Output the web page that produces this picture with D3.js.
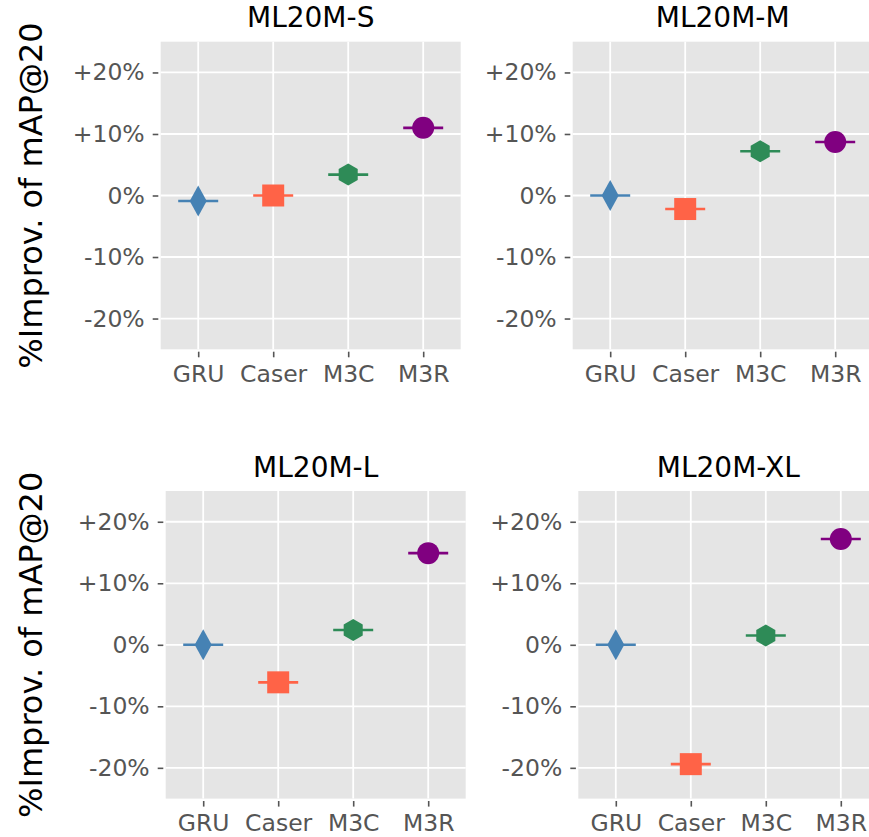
<!DOCTYPE html>
<html>
<head>
<meta charset="utf-8">
<script src="https://cdn.jsdelivr.net/npm/d3@7"></script>
<style>
  html, body { margin: 0; padding: 0; background: #ffffff; }
  svg { display: block; font-family: "DejaVu Sans", sans-serif; }
</style>
</head>
<body>
<svg id="chart" width="869" height="837"></svg>
<script>
// ---- data ----
const methods = ["GRU", "Caser", "M3C", "M3R"];
const datasets = ["ML20M-S", "ML20M-M", "ML20M-L", "ML20M-XL"];
const valuesS  = [-0.9,   0.0, 3.4, 11.0];
const valuesM  = [ 0.0,  -2.2, 7.2,  8.7];
const valuesL  = [ 0.0,  -6.1, 2.4, 14.9];
const valuesXL = [ 0.0, -19.4, 1.5, 17.2];
const yTicks = [-20, -10, 0, 10, 20];
const yTickLabels = ["-20%", "-10%", "0%", "+10%", "+20%"];
const yLabel = "%Improv. of mAP@20";
const colors = ["#4682b4", "#ff6347", "#2e8b57", "#800080"];

const allValues = [valuesS, valuesM, valuesL, valuesXL];

// ---- layout ----
const panelW = 300, panelH = 307.6;
const layout = [
  {left: 160.7, top: 41.7},
  {left: 572.7, top: 41.7},
  {left: 165.7, top: 491.0},
  {left: 578.3, top: 491.0}
];
const FONT = "DejaVu Sans";

const svg = d3.select("#chart");

// custom marker shapes
const thinDiamond = {draw(ctx) { const w = 8.5, h = 15.5;
  ctx.moveTo(0, -h); ctx.lineTo(w, 0); ctx.lineTo(0, h); ctx.lineTo(-w, 0); ctx.closePath(); }};
const squareM = {draw(ctx) { const s = 11;
  ctx.moveTo(-s, -s); ctx.lineTo(s, -s); ctx.lineTo(s, s); ctx.lineTo(-s, s); ctx.closePath(); }};
const hexagonM = {draw(ctx) { const r = 11;
  for (let i = 0; i < 6; i++) { const a = -Math.PI / 2 + i * Math.PI / 3;
    const x = r * Math.cos(a), y = r * Math.sin(a);
    if (i === 0) ctx.moveTo(x, y); else ctx.lineTo(x, y); }
  ctx.closePath(); }};
const circleM = {draw(ctx) { const r = 11; ctx.moveTo(r, 0); ctx.arc(0, 0, r, 0, 2 * Math.PI); }};
const shapes = [thinDiamond, squareM, hexagonM, circleM];

datasets.forEach((name, pi) => {
  const L = layout[pi];
  const vals = allValues[pi];
  const g = svg.append("g").attr("transform", `translate(${L.left},${L.top})`);

  const x = d3.scalePoint().domain(methods).range([0, panelW]).padding(0.5);
  const y = d3.scaleLinear().domain([-25, 25]).range([panelH, 0]);

  g.append("rect").attr("width", panelW).attr("height", panelH).attr("fill", "#e5e5e5");

  // gridlines
  g.append("g").selectAll("line").data(yTicks).join("line")
    .attr("x1", 0).attr("x2", panelW)
    .attr("y1", d => y(d)).attr("y2", d => y(d))
    .attr("stroke", "#ffffff").attr("stroke-width", 1.8);
  g.append("g").selectAll("line").data(methods).join("line")
    .attr("x1", d => x(d)).attr("x2", d => x(d))
    .attr("y1", 0).attr("y2", panelH)
    .attr("stroke", "#ffffff").attr("stroke-width", 1.8);

  // y axis
  const yAxis = d3.axisLeft(y).tickValues(yTicks)
    .tickFormat((d, i) => yTickLabels[i]).tickSize(5.6).tickPadding(8);
  const ya = g.append("g").attr("transform", "translate(-2.4,0)").call(yAxis);
  ya.select(".domain").remove();
  ya.selectAll(".tick line").attr("stroke", "#555555").attr("stroke-width", 1.6);
  ya.selectAll(".tick text").attr("fill", "#555555")
    .style("font-size", "23.5px").style("font-family", FONT);

  // x axis
  const xAxis = d3.axisBottom(x).tickSize(5.6).tickPadding(8);
  const xa = g.append("g").attr("transform", `translate(0,${panelH + 2.4})`).call(xAxis);
  xa.select(".domain").remove();
  xa.selectAll(".tick line").attr("stroke", "#555555").attr("stroke-width", 1.6);
  xa.selectAll(".tick text").attr("fill", "#555555")
    .style("font-size", "23.5px").style("font-family", FONT);

  // marks: horizontal bar + marker
  const pts = g.append("g").selectAll("g").data(methods.map((m, i) => ({m, v: vals[i], i})))
    .join("g").attr("transform", d => `translate(${x(d.m)},${y(d.v)})`);
  pts.append("line").attr("x1", -20).attr("x2", 20).attr("y1", 0).attr("y2", 0)
    .attr("stroke", d => colors[d.i]).attr("stroke-width", 2.6);
  pts.append("path").attr("d", d => d3.symbol().type(shapes[d.i])())
    .attr("fill", d => colors[d.i]);

  // title
  g.append("text").attr("x", panelW / 2).attr("y", -14.3)
    .attr("text-anchor", "middle").attr("fill", "#000000")
    .style("font-size", "28px").style("font-family", FONT).text(name);

  // y label on left column
  if (pi % 2 === 0) {
    svg.append("text")
      .attr("transform", `translate(42,${L.top + panelH / 2}) rotate(-90)`)
      .attr("text-anchor", "middle").attr("fill", "#000000")
      .style("font-size", "32px").style("font-family", FONT).text(yLabel);
  }
});
</script>
</body>
</html>
